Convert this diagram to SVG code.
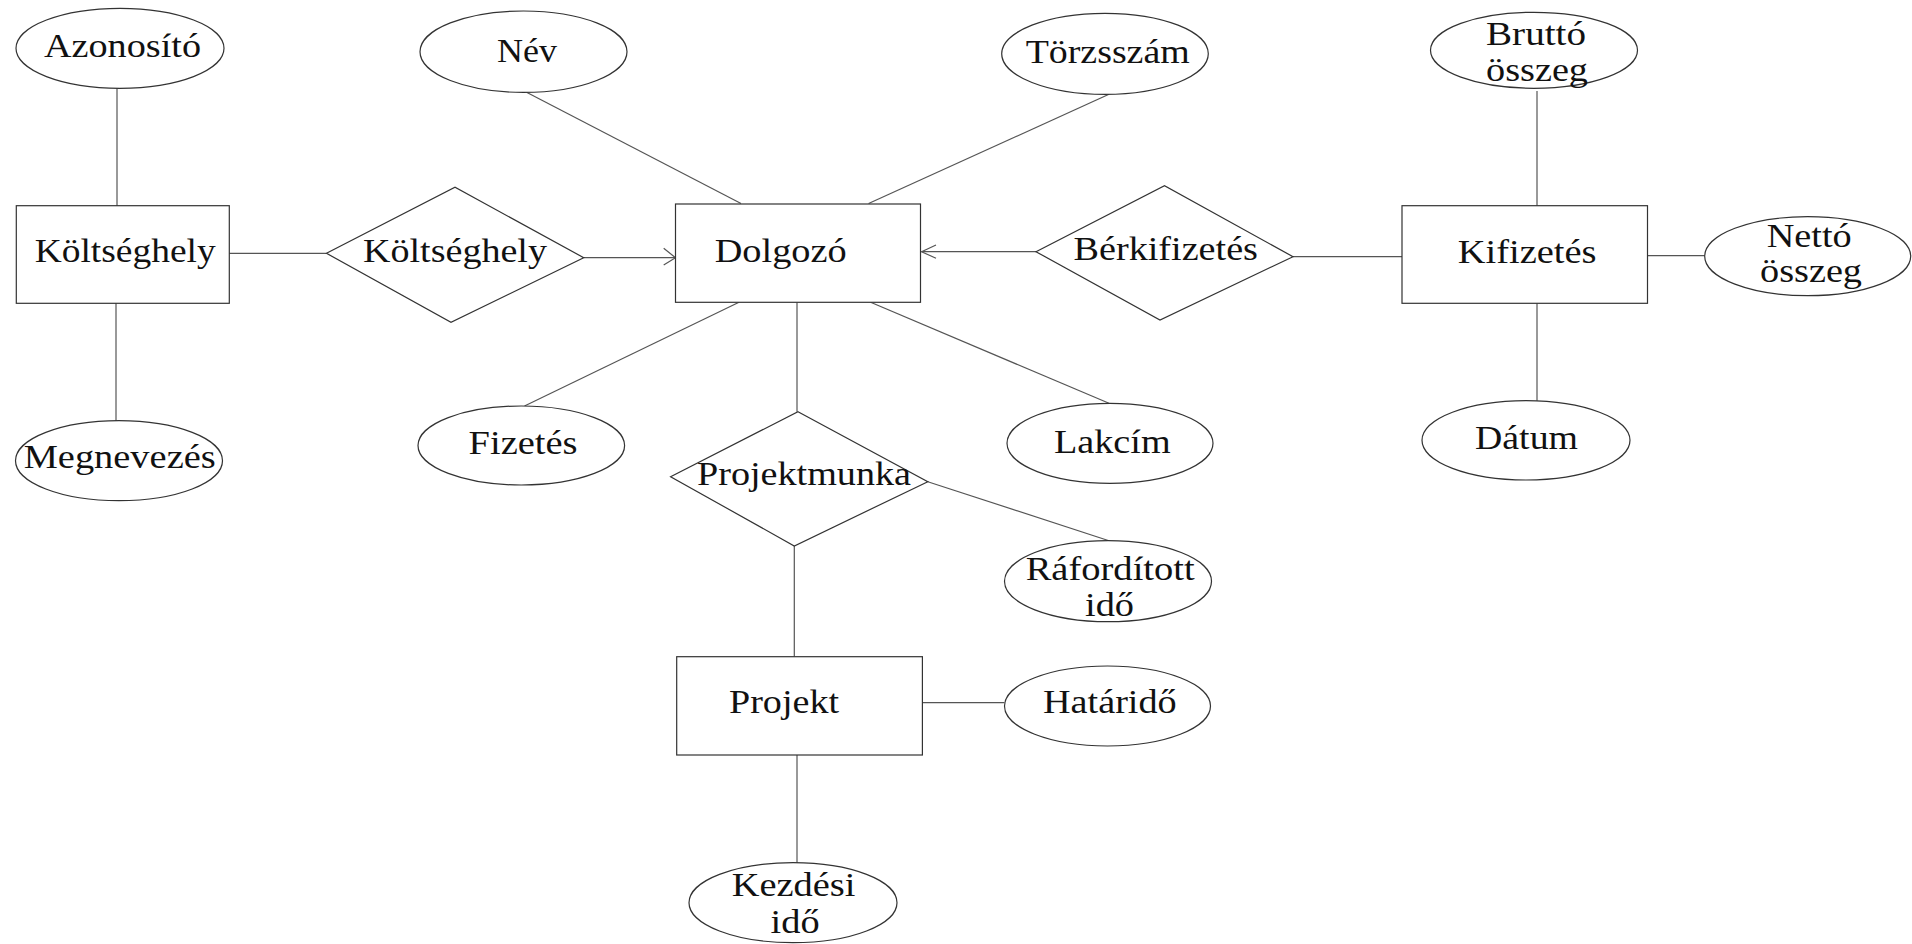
<svg xmlns="http://www.w3.org/2000/svg" width="1912" height="944" viewBox="0 0 1912 944">
<style>
.s{fill:#fff;stroke:#333;stroke-width:1.2}
.c{fill:none;stroke:#555;stroke-width:1.2}
.t{font-family:"Liberation Serif","Times New Roman",serif;font-size:33px;fill:#111}
</style>
<rect width="1912" height="944" fill="#fff"/>
<g id="connectors">
<line class="c" x1="117" y1="88" x2="117" y2="206"/>
<line class="c" x1="116" y1="303" x2="116" y2="421"/>
<line class="c" x1="229" y1="253.3" x2="326.5" y2="253.3"/>
<line class="c" x1="583.7" y1="257.7" x2="675.5" y2="257.7"/>
<polyline class="c" points="663.7,248.3 675.5,257.7 663.7,265"/>
<line class="c" x1="1036" y1="251.7" x2="921.6" y2="251.7"/>
<polyline class="c" points="936,245 921.6,251.7 936,258.3"/>
<line class="c" x1="526.5" y1="92.3" x2="741" y2="203.5"/>
<line class="c" x1="1109" y1="94.3" x2="868.6" y2="203.5"/>
<line class="c" x1="739" y1="302.3" x2="524.5" y2="406"/>
<line class="c" x1="797" y1="302.3" x2="797" y2="411.7"/>
<line class="c" x1="870.6" y1="302.3" x2="1109" y2="403.3"/>
<line class="c" x1="1293" y1="256.7" x2="1402" y2="256.7"/>
<line class="c" x1="1537" y1="91" x2="1537" y2="205.7"/>
<line class="c" x1="1647.5" y1="255.7" x2="1704.7" y2="255.7"/>
<line class="c" x1="1537" y1="303.3" x2="1537" y2="401"/>
<line class="c" x1="927.8" y1="481.7" x2="1109" y2="540.7"/>
<line class="c" x1="794.3" y1="546" x2="794.3" y2="656.7"/>
<line class="c" x1="922.4" y1="702.7" x2="1004.5" y2="702.7"/>
<line class="c" x1="797" y1="755" x2="797" y2="862.7"/>
</g>
<g id="azonosito"><ellipse class="s" cx="120" cy="48.3" rx="104" ry="40"/><text class="t" x="44" y="57" textLength="157" lengthAdjust="spacingAndGlyphs">Azonosító</text></g>
<g id="koltseghely-entity"><rect class="s" x="16.3" y="205.7" width="213" height="97.6"/><text class="t" x="34.7" y="262" textLength="181" lengthAdjust="spacingAndGlyphs">Költséghely</text></g>
<g id="megnevezes"><ellipse class="s" cx="119" cy="460.7" rx="103.5" ry="40"/><text class="t" x="23.7" y="468.3" textLength="192" lengthAdjust="spacingAndGlyphs">Megnevezés</text></g>
<g id="koltseghely-rel"><polygon class="s" points="326.5,253.3 455,187.3 583.7,257.7 451,322.3"/><text class="t" x="363" y="262" textLength="184" lengthAdjust="spacingAndGlyphs">Költséghely</text></g>
<g id="nev"><ellipse class="s" cx="523.5" cy="51.7" rx="103.5" ry="40.7"/><text class="t" x="497" y="61.7" textLength="60" lengthAdjust="spacingAndGlyphs">Név</text></g>
<g id="torzsszam"><ellipse class="s" cx="1105" cy="53.8" rx="103.3" ry="40.5"/><text class="t" x="1025.7" y="62.7" textLength="164" lengthAdjust="spacingAndGlyphs">Törzsszám</text></g>
<g id="dolgozo"><rect class="s" x="675.5" y="204" width="245" height="98.3"/><text class="t" x="714.7" y="261.7" textLength="132" lengthAdjust="spacingAndGlyphs">Dolgozó</text></g>
<g id="fizetes"><ellipse class="s" cx="521.3" cy="445.5" rx="103.3" ry="39.5"/><text class="t" x="468.6" y="454" textLength="109" lengthAdjust="spacingAndGlyphs">Fizetés</text></g>
<g id="lakcim"><ellipse class="s" cx="1110" cy="443.3" rx="103" ry="40"/><text class="t" x="1054" y="452.7" textLength="116.6" lengthAdjust="spacingAndGlyphs">Lakcím</text></g>
<g id="projektmunka"><polygon class="s" points="798,411.7 927.8,481.7 794.3,546 670.6,476.7"/><text class="t" x="697" y="485" textLength="214" lengthAdjust="spacingAndGlyphs">Projektmunka</text></g>
<g id="raforditott-ido"><ellipse class="s" cx="1108" cy="581.2" rx="103.5" ry="40.5"/><text class="t" x="1025.7" y="580" textLength="169" lengthAdjust="spacingAndGlyphs">Ráfordított</text><text class="t" x="1085" y="616" textLength="49" lengthAdjust="spacingAndGlyphs">idő</text></g>
<g id="projekt"><rect class="s" x="676.7" y="656.7" width="245.7" height="98.3"/><text class="t" x="729" y="713.3" textLength="110" lengthAdjust="spacingAndGlyphs">Projekt</text></g>
<g id="hatarido"><ellipse class="s" cx="1107.5" cy="706" rx="103" ry="40"/><text class="t" x="1043" y="713.3" textLength="133.7" lengthAdjust="spacingAndGlyphs">Határidő</text></g>
<g id="kezdesi-ido"><ellipse class="s" cx="793" cy="902.7" rx="104" ry="40"/><text class="t" x="731.8" y="896" textLength="123.7" lengthAdjust="spacingAndGlyphs">Kezdési</text><text class="t" x="770.6" y="933.3" textLength="49" lengthAdjust="spacingAndGlyphs">idő</text></g>
<g id="berkifizetes"><polygon class="s" points="1036,251.7 1164.5,185.7 1293,256.7 1160,320"/><text class="t" x="1073.5" y="260" textLength="184.5" lengthAdjust="spacingAndGlyphs">Bérkifizetés</text></g>
<g id="kifizetes"><rect class="s" x="1402" y="205.7" width="245.5" height="97.6"/><text class="t" x="1457.7" y="263.3" textLength="138.8" lengthAdjust="spacingAndGlyphs">Kifizetés</text></g>
<g id="brutto-osszeg"><ellipse class="s" cx="1534" cy="50.3" rx="103.5" ry="38"/><text class="t" x="1486" y="45" textLength="100" lengthAdjust="spacingAndGlyphs">Bruttó</text><text class="t" x="1486" y="81" textLength="102" lengthAdjust="spacingAndGlyphs">összeg</text></g>
<g id="netto-osszeg"><ellipse class="s" cx="1807.7" cy="256.2" rx="103" ry="39.5"/><text class="t" x="1766.7" y="246.7" textLength="85" lengthAdjust="spacingAndGlyphs">Nettó</text><text class="t" x="1760" y="281.7" textLength="102" lengthAdjust="spacingAndGlyphs">összeg</text></g>
<g id="datum"><ellipse class="s" cx="1526" cy="440.3" rx="104" ry="39.7"/><text class="t" x="1475" y="449.3" textLength="103" lengthAdjust="spacingAndGlyphs">Dátum</text></g>
</svg>
